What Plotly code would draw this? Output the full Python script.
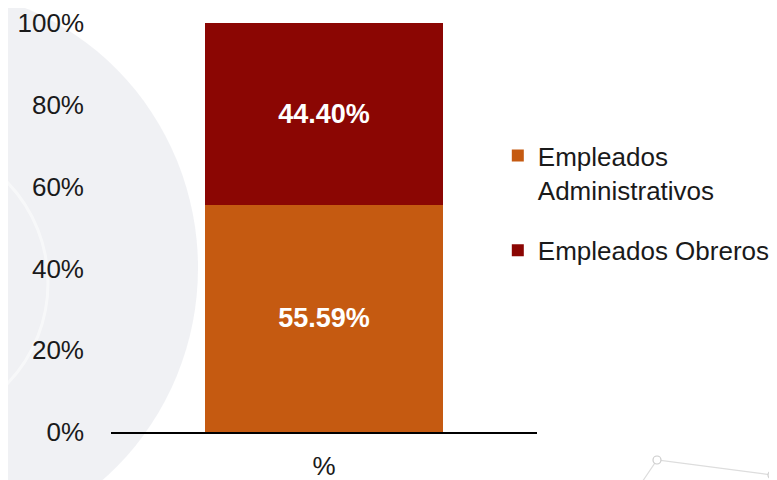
import plotly.graph_objects as go

categories = ["%"]
series_names = ["Empleados<br>Administrativos", "Empleados Obreros"]
admin_values = [55.59]
obreros_values = [44.40]
admin_labels = ["55.59%"]
obreros_labels = ["44.40%"]
tick_vals = [0, 20, 40, 60, 80, 100]
tick_text = ["0%", "20%", "40%", "60%", "80%", "100%"]

FONT = "Liberation Sans, Arial, sans-serif"

# figure-pixel geometry of plot area (page is offset by 8px body margin)
L, T, PW, PH = 103, 15, 426, 409
def px(x):
    return (x - L) / PW
def py(y):
    return 1 - (y - T) / PH

fig = go.Figure()
fig.add_trace(go.Bar(
    x=categories, y=admin_values, name=series_names[0],
    marker=dict(color="#C55A11", line=dict(width=0)),
    text=admin_labels, textposition="inside", insidetextanchor="middle",
    textfont=dict(color="white", size=27, family=FONT, weight="bold"),
    width=0.56, legendgroup="a",
))
fig.add_trace(go.Bar(
    x=categories, y=obreros_values, name=series_names[1],
    marker=dict(color="#8B0603", line=dict(width=0)),
    text=obreros_labels, textposition="inside", insidetextanchor="middle",
    textfont=dict(color="white", size=27, family=FONT, weight="bold"),
    width=0.56, legendgroup="b",
))

shapes = [
    # faint watermark swoosh on the left
    dict(type="circle", xref="paper", yref="paper", layer="below",
         x0=px(-360), x1=px(190), y0=py(540), y1=py(-20),
         fillcolor="#eceef1", line=dict(width=0), opacity=0.8),
    dict(type="circle", xref="paper", yref="paper", layer="below",
         x0=px(-250), x1=px(40), y0=py(420), y1=py(130),
         fillcolor="rgba(0,0,0,0)", line=dict(color="white", width=3), opacity=0.5),
    # faint network lines bottom-right
    dict(type="path", xref="paper", yref="paper", layer="below",
         path=f"M {px(630)} {py(480)} L {px(649)} {py(452)} L {px(764)} {py(467)}",
         line=dict(color="#dddddd", width=1.2)),
    dict(type="circle", xref="paper", yref="paper", layer="below",
         x0=px(645), x1=px(653), y0=py(456), y1=py(448),
         fillcolor="white", line=dict(color="#cccccc", width=1.2)),
    dict(type="circle", xref="paper", yref="paper", layer="below",
         x0=px(760), x1=px(768), y0=py(471), y1=py(463),
         fillcolor="white", line=dict(color="#cccccc", width=1.2)),
]

fig.update_layout(
    width=777, height=480,
    barmode="stack",
    margin=dict(l=L, r=777 - L - PW, t=T, b=480 - T - PH, autoexpand=False),
    paper_bgcolor="white",
    plot_bgcolor="rgba(0,0,0,0)",
    font=dict(family=FONT, size=26, color="#1a1a1a"),
    uniformtext=dict(mode="show", minsize=27),
    xaxis=dict(showgrid=False, showline=True, linecolor="black", linewidth=2,
               ticks="", tickfont=dict(size=26), ticklabelstandoff=10,
               automargin=False, fixedrange=True),
    yaxis=dict(range=[0, 100], tickvals=tick_vals, ticktext=tick_text,
               showgrid=False, zeroline=False, showline=False,
               ticks="", ticklabelstandoff=26, tickfont=dict(size=26),
               automargin=False),
    legend=dict(x=0.908, y=0.733, xanchor="left", yanchor="top",
                traceorder="grouped", tracegroupgap=24, valign="top",
                font=dict(size=26), bgcolor="rgba(0,0,0,0)"),
    shapes=shapes,
    showlegend=True,
)

fig.write_html("out.html")
